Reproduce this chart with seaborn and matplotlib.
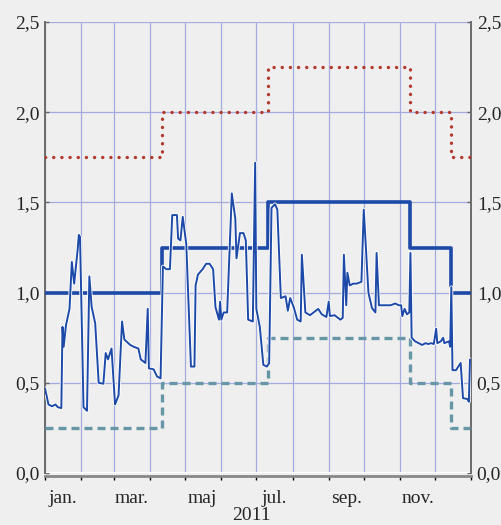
import matplotlib
matplotlib.use("Agg")
import matplotlib.pyplot as plt
import matplotlib.dates as mdates
import matplotlib.patheffects as pe
from matplotlib.ticker import FuncFormatter
import seaborn as sns
import pandas as pd

# Daily tomorrow/next rate (day of year, 0 = 1 Jan 2011)
tn_day = [0, 3, 6, 9, 11, 14, 15, 16, 18, 21, 23, 25, 28, 29, 30, 33, 36, 38, 40, 43,
          46, 50, 52, 54, 57, 60, 63, 66, 68, 73, 76, 80, 82, 86, 88, 89, 93, 96, 99, 101,
          104, 107, 109, 113, 114, 116, 118, 121, 125, 128, 129, 131, 135, 138, 141, 144,
          146, 149, 150, 151, 153, 156, 160, 163, 164, 167, 170, 172, 174, 178, 180, 181,
          184, 187, 190, 192, 194, 197, 199, 202, 206, 208, 210, 213, 216, 219, 220, 223,
          227, 230, 234, 237, 241, 243, 244, 248, 253, 255, 256, 258, 259, 261, 264, 267,
          271, 273, 277, 280, 283, 284, 286, 291, 296, 300, 303, 305, 306, 308, 310, 312,
          313, 314, 317, 320, 323, 326, 328, 331, 333, 335, 336, 339, 341, 342, 346, 347,
          348, 349, 352, 356, 358, 362, 363, 364]
tn_rate = [0.47, 0.38, 0.37, 0.38, 0.365, 0.36, 0.81, 0.70, 0.82, 0.91, 1.17, 1.05, 1.24,
           1.32, 1.31, 0.365, 0.345, 1.09, 0.92, 0.83, 0.50, 0.495, 0.665, 0.63, 0.69, 0.38,
           0.43, 0.84, 0.74, 0.71, 0.70, 0.69, 0.63, 0.61, 0.91, 0.58, 0.575, 0.535, 0.525,
           1.145, 1.13, 1.13, 1.43, 1.43, 1.30, 1.29, 1.42, 1.27, 0.59, 0.59, 1.04, 1.10,
           1.13, 1.16, 1.16, 1.13, 0.92, 0.85, 0.95, 0.85, 0.89, 0.89, 1.55, 1.41, 1.19,
           1.33, 1.33, 1.29, 0.85, 0.84, 1.72, 0.91, 0.81, 0.60, 0.59, 0.61, 1.47, 1.49,
           1.46, 0.97, 0.98, 0.90, 0.97, 0.92, 0.85, 0.84, 1.21, 0.89, 0.875, 0.89, 0.91,
           0.88, 0.865, 0.95, 0.87, 0.875, 0.85, 0.86, 1.21, 0.93, 1.11, 1.04, 1.05, 1.05,
           1.06, 1.46, 1.00, 0.915, 0.89, 1.22, 0.93, 0.93, 0.93, 0.94, 0.93, 0.93, 0.87,
           0.91, 0.88, 0.89, 1.22, 0.75, 0.73, 0.72, 0.71, 0.72, 0.715, 0.72, 0.715, 0.80,
           0.72, 0.73, 0.75, 0.72, 0.73, 0.70, 1.03, 0.57, 0.57, 0.61, 0.415, 0.41, 0.395,
           0.63]

# Official rates (step changes)
rate_dates = ["2011-01-01", "2011-04-11", "2011-07-11", "2011-11-10", "2011-12-15", "2011-12-31"]
lending_rate = [1.00, 1.25, 1.50, 1.25, 1.00, 1.00]
discount_rate = [1.75, 2.00, 2.25, 2.00, 1.75, 1.75]
current_account_rate = [0.25, 0.50, 0.75, 0.50, 0.25, 0.25]

month_labels = ["jan.", "mar.", "maj", "jul.", "sep.", "nov."]
year_label = "2011"

BG = "#efefef"
BLUE = "#1d4aa8"
RED = "#b3392c"
TEAL = "#6796a6"
GRID = "#a4acdf"

sns.set_theme(style="white")
plt.rcParams["font.family"] = ["Liberation Serif", "DejaVu Serif"]

tn = pd.DataFrame({
    "date": pd.Timestamp("2011-01-01") + pd.to_timedelta(tn_day, unit="D"),
    "rate": tn_rate,
})
rates = pd.DataFrame({
    "date": pd.to_datetime(rate_dates),
    "lending": lending_rate,
    "discount": discount_rate,
    "current": current_account_rate,
})

fig = plt.figure(figsize=(5.02, 5.25), dpi=100, facecolor=BG)
ax = fig.add_axes([0.0896, 0.099, 0.849, 0.859])
ax.set_facecolor(BG)

# grid
ax.set_axisbelow(True)
ax.grid(True, which="major", color=GRID, linewidth=0.9)
ax.axhline(0, color="white", linewidth=2.2, zorder=1)

sns.lineplot(data=rates, x="date", y="discount", ax=ax, color=RED, linewidth=2.4,
             drawstyle="steps-post", linestyle=(0, (0.05, 2.4)),
             dash_capstyle="round", zorder=3)
sns.lineplot(data=rates, x="date", y="current", ax=ax, color=TEAL, linewidth=2.4,
             drawstyle="steps-post", linestyle=(0, (2.4, 1.5)),
             dash_capstyle="butt", zorder=3)
sns.lineplot(data=rates, x="date", y="lending", ax=ax, color=BLUE, linewidth=2.6,
             drawstyle="steps-post", zorder=4)
sns.lineplot(data=tn, x="date", y="rate", ax=ax, color=BLUE, linewidth=1.4, zorder=5,
             path_effects=[pe.Stroke(linewidth=2.6, foreground="white"), pe.Normal()])

ax.set_xlim(pd.Timestamp("2011-01-01"), pd.Timestamp("2012-01-01"))
ax.set_ylim(0, 2.5)
ax.set_yticks([0, 0.5, 1.0, 1.5, 2.0, 2.5])
ax.yaxis.set_major_formatter(FuncFormatter(lambda v, p: f"{v:.1f}".replace(".", ",")))

ax.xaxis.set_major_locator(mdates.MonthLocator())
ax.xaxis.set_major_formatter(FuncFormatter(lambda v, p: ""))
mid_months = pd.to_datetime([f"2011-{m:02d}-16" for m in (1, 3, 5, 7, 9, 11)])
ax.set_xticks(mdates.date2num(mid_months), minor=True)
ax.set_xticklabels(month_labels, minor=True)
ax.tick_params(axis="x", which="major", direction="out", length=3, width=1,
               color="black", bottom=True)
ax.tick_params(axis="x", which="minor", length=0, pad=10, labelsize=14)
ax.tick_params(axis="y", which="major", left=True, right=True, labelleft=True,
               labelright=True, direction="in", length=3, width=1, color="#666666",
               labelsize=14, pad=4)

ax.set_xlabel("")
ax.set_ylabel("")
# year label under the month labels
fig.text(0.5, 0.018, year_label, ha="center", va="center", fontsize=14)

for side in ("left", "right"):
    ax.spines[side].set_color("#6b6b6b")
    ax.spines[side].set_linewidth(1.4)
ax.spines["top"].set_visible(False)
ax.spines["bottom"].set_color("#888888")
ax.spines["bottom"].set_linewidth(2)
ax.spines["bottom"].set_position(("outward", 2))

fig.savefig("out.png", dpi=100, facecolor=BG)
plt.close(fig)
